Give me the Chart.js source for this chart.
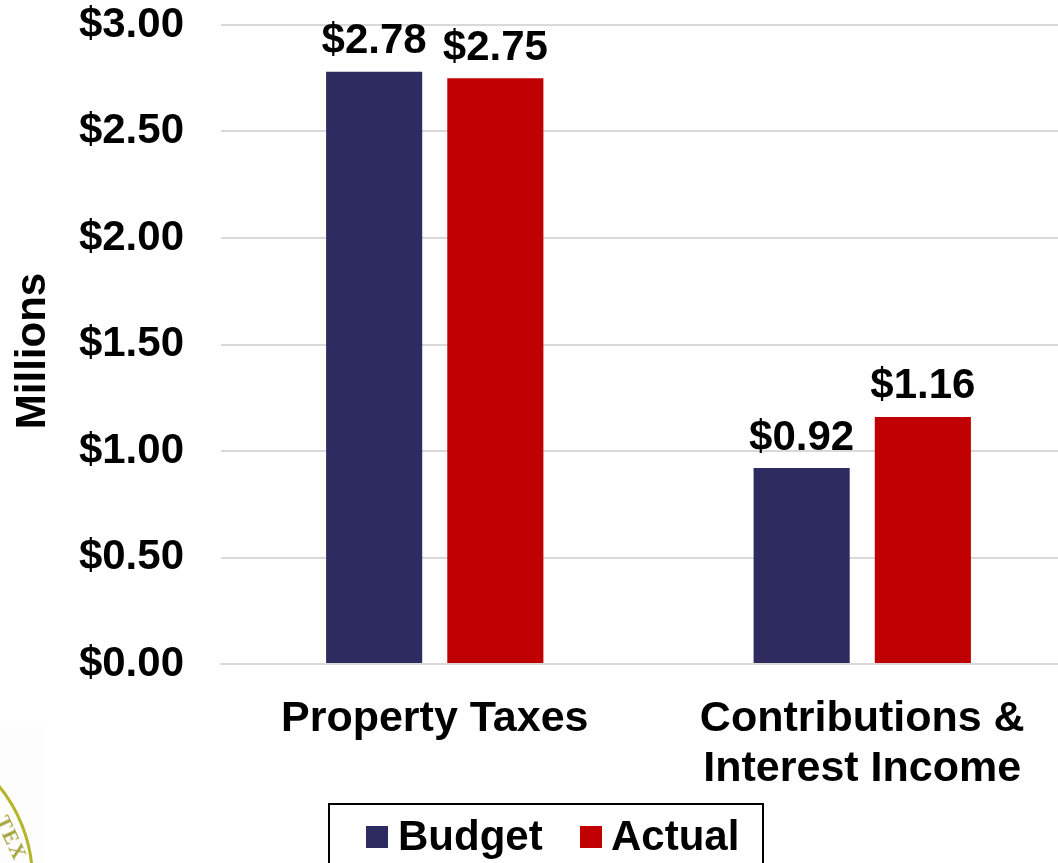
<!DOCTYPE html>
<html>
<head>
<meta charset="utf-8">
<script src="https://cdn.jsdelivr.net/npm/chart.js@4"></script>
<style>
  html, body { margin: 0; padding: 0; background: #fff; overflow: hidden; }
  #wrap { position: relative; width: 1058px; height: 863px; overflow: hidden; }
  #chart { position: absolute; left: 0; top: 0; }
  #legend {
    position: absolute; left: 328px; top: 803px; width: 436px; height: 60px;
    border: 2px solid #000; border-bottom: none; box-sizing: border-box;
    font: bold 42px "Liberation Sans", Arial, sans-serif; color: #000;
  }
  #legend span { position: absolute; top: 7px; line-height: 48px; }
  #legend i { position: absolute; top: 21px; width: 22px; height: 22px; }
  /* corner of the seal that is cropped off at bottom left */
  #sealbg { position: absolute; left: 0; top: 722px; width: 43px; height: 141px; background: #FDFDFE; }
  #seal { position: absolute; left: -266px; top: 730px; width: 300px; height: 300px; box-sizing: border-box; border: 3px solid #B5B52A; border-radius: 50%; filter: blur(0.6px); }
  #sealtext { position: absolute; left: -14px; top: 827px; width: 50px; text-align: center; font: bold 20px "Liberation Serif", serif; letter-spacing: 2px; color: #A3A33A; transform: rotate(65deg); filter: blur(0.5px); }
</style>
</head>
<body>
<div id="wrap">
  <div id="sealbg"></div>
  <div id="seal"></div>
  <div id="sealtext">TEX</div>
  <canvas id="chart" width="1076" height="863"></canvas>
  <div id="legend">
    <i style="left:36px;background:#2E2B61"></i><span style="left:68px">Budget</span>
    <i style="left:250px;background:#C00000"></i><span style="left:281px">Actual</span>
  </div>
</div>
<script>
const categories = ["Property Taxes", ["Contributions &", "Interest Income"]];
const budget = [2.78, 0.92];
const actual = [2.75, 1.16];
const tickValues = [0, 0.5, 1, 1.5, 2, 2.5, 3];
const FONT = '"Liberation Sans", Arial, sans-serif';

// bar value labels and the axis title, which sits a little below the plot centre
const barLabels = {
  id: "barLabels",
  afterDatasetsDraw(chart) {
    const ctx = chart.ctx;
    ctx.save();
    ctx.font = "bold 42px " + FONT;
    ctx.fillStyle = "#000";
    ctx.textAlign = "center";
    ctx.textBaseline = "bottom";
    chart.data.datasets.forEach((ds, i) => {
      chart.getDatasetMeta(i).data.forEach((bar, j) => {
        ctx.fillText("$" + ds.data[j].toFixed(2), bar.x, bar.y - 9);
      });
    });
    ctx.translate(33, 351);
    ctx.rotate(-Math.PI / 2);
    ctx.textBaseline = "middle";
    ctx.fillText("Millions", 0, 0);
    ctx.restore();
  }
};

new Chart(document.getElementById("chart"), {
  type: "bar",
  data: {
    labels: categories,
    datasets: [
      { label: "Budget", data: budget, backgroundColor: "#2E2B61" },
      { label: "Actual", data: actual, backgroundColor: "#C00000" }
    ]
  },
  options: {
    responsive: false,
    animation: false,
    layout: { padding: { left: 0, right: 0, top: 25, bottom: 0 } },
    datasets: { bar: { barPercentage: 0.793, categoryPercentage: 0.567 } },
    plugins: { legend: { display: false }, tooltip: { enabled: false } },
    scales: {
      x: {
        afterFit(axis) { axis.height = 199; },
        grid: { display: false },
        border: { color: "#D9D9D9", width: 2 },
        ticks: { color: "#000", font: { family: FONT, size: 43, weight: "bold", lineHeight: 1.16 }, padding: 22, maxRotation: 0, autoSkip: false }
      },
      y: {
        min: 0,
        max: 3,
        afterBuildTicks(axis) { axis.ticks = tickValues.map(v => ({ value: v })); },
        afterFit(axis) {
          axis.width = 221;
          // tick labels may overflow the plot, so no extra room above it
          axis.paddingTop = 0;
          axis.paddingBottom = 0;
        },
        grid: { color: "#D9D9D9", lineWidth: 2, drawTicks: false },
        border: { display: false },
        ticks: { color: "#000", font: { family: FONT, size: 42, weight: "bold" }, padding: 37, callback: v => "$" + v.toFixed(2) }
      }
    }
  },
  plugins: [barLabels]
});
</script>
</body>
</html>
